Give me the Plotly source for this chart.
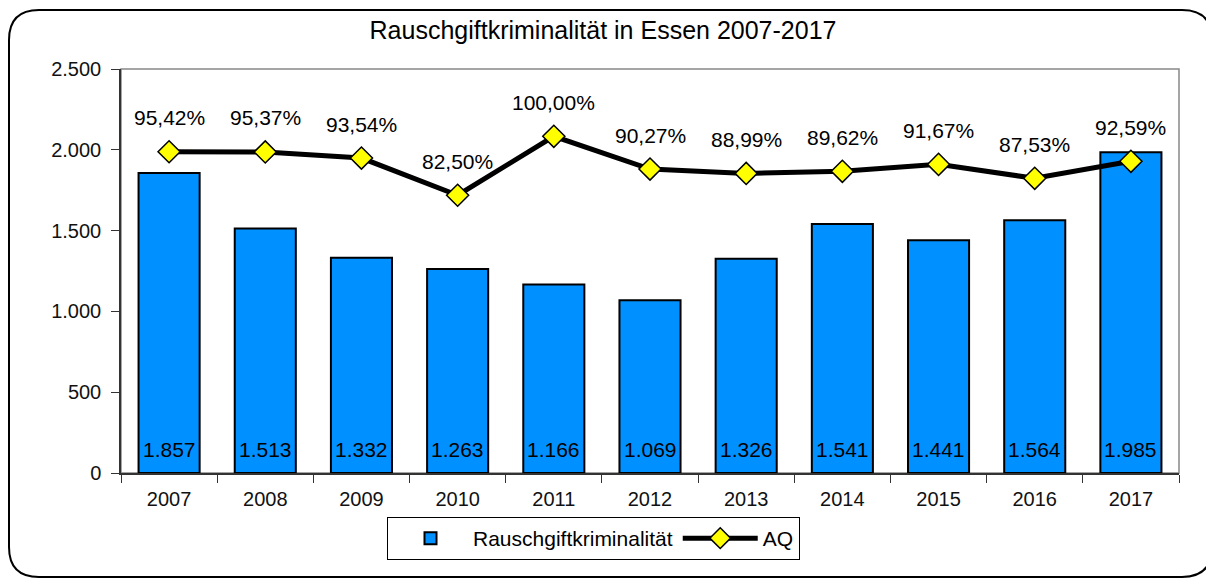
import plotly.graph_objects as go

years = ["2007", "2008", "2009", "2010", "2011", "2012", "2013", "2014", "2015", "2016", "2017"]
cases = [1857, 1513, 1332, 1263, 1166, 1069, 1326, 1541, 1441, 1564, 1985]
aq = [0.9542, 0.9537, 0.9354, 0.8250, 1.0000, 0.9027, 0.8899, 0.8962, 0.9167, 0.8753, 0.9259]

OFF = 8  # page body margin
W, H = 1214 - OFF, 580 - OFF
L, R, T, B = 121 - OFF, 1179 - OFF, 69 - OFF, 473 - OFF
FONT = "Liberation Sans, Arial, sans-serif"


def px(x):  # reference-screen pixel -> paper x
    return (x - OFF - L) / (R - L)


def py(y):  # reference-screen pixel -> paper y
    return (B - (y - OFF)) / (B - T)


fig = go.Figure()
fig.add_trace(go.Bar(
    x=years, y=cases, name="Rauschgiftkriminalität",
    marker=dict(color="#0090FF", line=dict(color="black", width=2)),
))
fig.add_trace(go.Scatter(
    x=years, y=aq, name="AQ", yaxis="y2", mode="lines+markers",
    line=dict(color="black", width=5),
    marker=dict(symbol="diamond", size=17, color="#FFFF00", line=dict(color="black", width=1.5)),
))

annotations = []
for i, v in enumerate(cases):
    annotations.append(dict(x=i, y=0, xref="x", yref="y", text=f"{v:,}".replace(",", "."),
                            showarrow=False, yanchor="middle", yshift=24,
                            font=dict(size=21, family=FONT, color="black")))
for i, v in enumerate(aq):
    annotations.append(dict(x=i, y=v, xref="x", yref="y2",
                            text=f"{v*100:.2f}%".replace(".", ","),
                            showarrow=False, yanchor="middle", yshift=34,
                            font=dict(size=21, family=FONT, color="black")))

# outer rounded border
x0, x1, y0, y1, r = px(9), px(1212), py(10), py(577), 30
rx, ry = r / (R - L), r / (B - T)
path = (f"M {x0+rx},{y0} L {x1-rx},{y0} Q {x1},{y0} {x1},{y0-ry} "
        f"L {x1},{y1+ry} Q {x1},{y1} {x1-rx},{y1} L {x0+rx},{y1} "
        f"Q {x0},{y1} {x0},{y1+ry} L {x0},{y0-ry} Q {x0},{y0} {x0+rx},{y0} Z")

fig.update_layout(
    width=W, height=H,
    margin=dict(l=L, r=W - R, t=T, b=H - B),
    paper_bgcolor="white", plot_bgcolor="white",
    separators=",.",
    font=dict(family=FONT, size=20, color="black"),
    title=dict(text="Rauschgiftkriminalität in Essen 2007-2017", x=(603 - OFF) / W, xanchor="center",
               y=(H - (30 - OFF)) / H, yanchor="middle", font=dict(size=25)),
    bargap=0.365,
    showlegend=True,
    legend=dict(orientation="h", x=px(387), y=py(517), xanchor="left", yanchor="top",
                bordercolor="black", borderwidth=1, font=dict(size=21),
                itemwidth=75),
    xaxis=dict(type="category", range=[-0.5, len(years) - 0.5], showline=True, linecolor="#333",
               linewidth=1.5, ticks="outside", tickson="boundaries", ticklen=8, tickcolor="#333",
               showgrid=False, tickfont=dict(size=20, color="#111"), tickangle=0,
               ticklabelstandoff=7),
    yaxis=dict(range=[0, 2500], dtick=500, tickformat=",", showline=True, linecolor="#333",
               linewidth=1.5, ticks="outside", ticklen=8, tickcolor="#333", showgrid=False,
               zeroline=False, tickfont=dict(size=20, color="#111"), ticklabelstandoff=6),
    yaxis2=dict(range=[0, 1.2], overlaying="y", side="right", visible=False),
    annotations=annotations,
    shapes=[
        dict(type="rect", xref="paper", yref="paper", x0=0, x1=1, y0=0, y1=1,
             line=dict(color="#888", width=1.5), layer="below"),
        dict(type="path", xref="paper", yref="paper", path=path,
             line=dict(color="black", width=2)),
    ],
)
fig.write_html("out.html")
